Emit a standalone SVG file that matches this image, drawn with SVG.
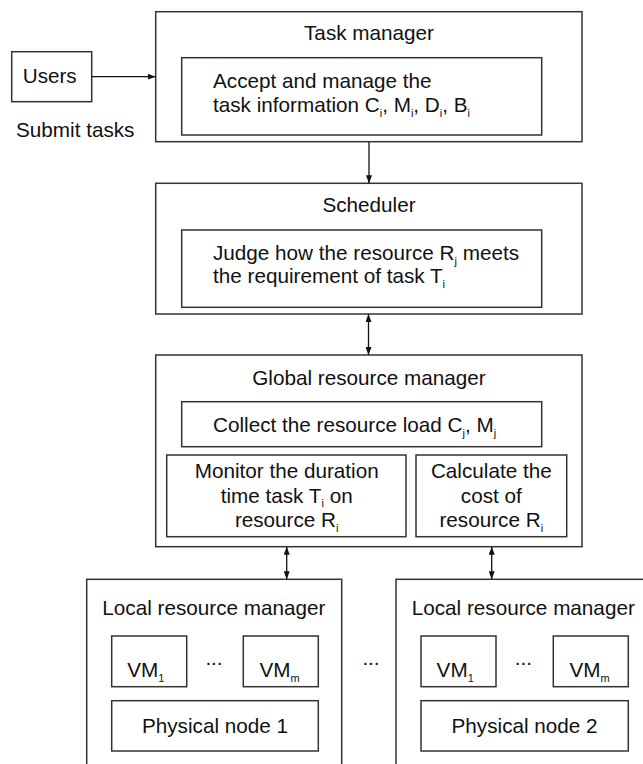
<svg xmlns="http://www.w3.org/2000/svg" width="643" height="764" viewBox="0 0 643 764">
<defs>
<style>
.box{fill:#fff;stroke:#333;stroke-width:1.5}
.t{font-family:"Liberation Sans",Arial,sans-serif;font-size:20.7px;fill:#111}
.c{text-anchor:middle}
.s{font-size:11px}
.ln{fill:none;stroke:#111;stroke-width:1.3}
</style>
<marker id="ah" viewBox="0 0 8 6" refX="8" refY="3" markerWidth="8" markerHeight="6" markerUnits="userSpaceOnUse" orient="auto-start-reverse">
<path d="M0,0 L8,3 L0,6 z" fill="#111"/>
</marker>
</defs>
<rect width="643" height="764" fill="#fff"/>

<g id="users">
<rect class="box" x="11.7" y="51.7" width="80" height="50"/>
<text class="t" x="22.7" y="83.3">Users</text>
</g>
<text id="submit-label" class="t" x="16" y="136.7">Submit tasks</text>

<g id="task-manager">
<rect class="box" x="155.7" y="11.7" width="426.3" height="130"/>
<text class="t c" x="369" y="40">Task manager</text>
<rect class="box" x="181.7" y="57.7" width="360" height="77.3"/>
<text class="t" x="213" y="88">Accept and manage the</text>
<text class="t" x="213" y="112">task information C<tspan class="s" dy="5">i</tspan><tspan dy="-5">, M</tspan><tspan class="s" dy="5">i</tspan><tspan dy="-5">, D</tspan><tspan class="s" dy="5">i</tspan><tspan dy="-5">, B</tspan><tspan class="s" dy="5">i</tspan></text>
</g>

<g id="scheduler">
<rect class="box" x="155.7" y="183.3" width="426.3" height="130.7"/>
<text class="t c" x="369" y="212.3">Scheduler</text>
<rect class="box" x="181.7" y="230" width="360" height="77.3"/>
<text class="t" x="213" y="260">Judge how the resource R<tspan class="s" dy="5">j</tspan><tspan dy="-5"> meets</tspan></text>
<text class="t" x="213" y="283.3">the requirement of task T<tspan class="s" dy="5">i</tspan></text>
</g>

<g id="global-resource-manager">
<rect class="box" x="155.7" y="355" width="426.3" height="191.7"/>
<text class="t c" x="369" y="385">Global resource manager</text>
<rect class="box" x="181.7" y="401.7" width="360" height="45"/>
<text class="t" x="213" y="431.7">Collect the resource load C<tspan class="s" dy="5">j</tspan><tspan dy="-5">, M</tspan><tspan class="s" dy="5">j</tspan></text>
<rect class="box" x="166.7" y="455" width="239.3" height="81.7"/>
<text class="t c" x="286.7" y="478.3">Monitor the duration</text>
<text class="t c" x="286.7" y="503.3">time task T<tspan class="s" dy="4">i</tspan><tspan dy="-4"> on</tspan></text>
<text class="t c" x="286.7" y="527">resource R<tspan class="s" dy="5">i</tspan></text>
<rect class="box" x="416" y="455" width="150.7" height="81.7"/>
<text class="t c" x="491.3" y="478.3">Calculate the</text>
<text class="t c" x="491.3" y="503.3">cost of</text>
<text class="t c" x="491.3" y="527">resource R<tspan class="s" dy="5">i</tspan></text>
</g>

<g id="local-resource-manager-1">
<rect class="box" x="86.7" y="579.3" width="255" height="200"/>
<text class="t" x="102.3" y="615">Local resource manager</text>
<rect class="box" x="111.7" y="636" width="75" height="50.7"/>
<text class="t" x="127.3" y="677.3">VM<tspan class="s" dy="5">1</tspan></text>
<text class="t c" x="214" y="665">...</text>
<rect class="box" x="243.3" y="636" width="75" height="50.7"/>
<text class="t" x="259.5" y="677.3">VM<tspan class="s" dy="5">m</tspan></text>
<rect class="box" x="111.7" y="700.7" width="206.6" height="50.3"/>
<text class="t c" x="215" y="733.3">Physical node 1</text>
</g>

<text id="between-dots" class="t c" x="371" y="665">...</text>

<g id="local-resource-manager-2">
<rect class="box" x="396" y="579.3" width="255" height="200"/>
<text class="t" x="411.7" y="615">Local resource manager</text>
<rect class="box" x="421" y="636" width="75" height="50.7"/>
<text class="t" x="436.6" y="677.3">VM<tspan class="s" dy="5">1</tspan></text>
<text class="t c" x="523.3" y="665">...</text>
<rect class="box" x="553.3" y="636" width="75" height="50.7"/>
<text class="t" x="569.5" y="677.3">VM<tspan class="s" dy="5">m</tspan></text>
<rect class="box" x="421" y="700.7" width="207.3" height="50.3"/>
<text class="t c" x="524.6" y="733.3">Physical node 2</text>
</g>

<g id="connectors">
<path class="ln" d="M91.7,76.7 H155.7" marker-end="url(#ah)"/>
<path class="ln" d="M369,141.7 V183.3" marker-end="url(#ah)"/>
<path class="ln" d="M368.5,314 V355" marker-start="url(#ah)" marker-end="url(#ah)"/>
<path class="ln" d="M286.7,546.7 V579.3" marker-start="url(#ah)" marker-end="url(#ah)"/>
<path class="ln" d="M491.7,546.7 V579.3" marker-start="url(#ah)" marker-end="url(#ah)"/>
</g>
</svg>
